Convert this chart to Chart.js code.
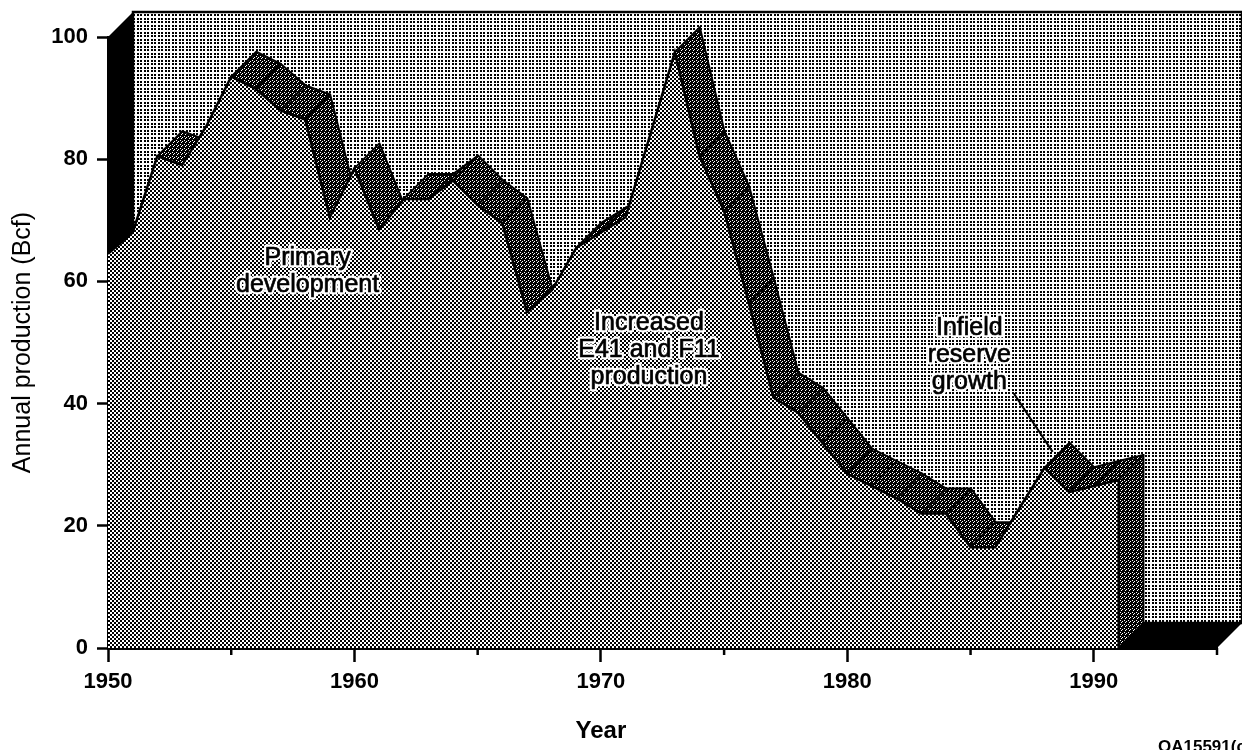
<!DOCTYPE html>
<html>
<head>
<meta charset="utf-8">
<title>Annual production</title>
<script src="https://cdn.jsdelivr.net/npm/chart.js@4/dist/chart.umd.min.js"></script>
<style>
  html, body { margin: 0; padding: 0; background: #fff; }
  canvas { display: block; }
</style>
</head>
<body>
<canvas id="productionChart" width="1242" height="750"></canvas>
<script>
// values (Bcf per year)
const years = [1950, 1951, 1952, 1953, 1954, 1955, 1956, 1957, 1958, 1959,
               1960, 1961, 1962, 1963, 1964, 1965, 1966, 1967, 1968, 1969,
               1970, 1971, 1972, 1973, 1974, 1975, 1976, 1977, 1978, 1979,
               1980, 1981, 1982, 1983, 1984, 1985, 1986, 1987, 1988, 1989,
               1990, 1991];
const production = [64.5, 68, 80.5, 79, 85.5, 93.5, 91.5, 88, 86.5, 70.5,
                    78.5, 68.5, 73.5, 73.5, 76.5, 72.5, 69.5, 55, 58.5, 65.5,
                    68, 70.5, 84, 97.5, 80.5, 71.5, 56.5, 41, 38.5, 33.5,
                    28.5, 26.5, 24.5, 22, 22, 16.5, 16.5, 23, 29.5, 25.5,
                    26.5, 27.5];

const yTicks = [0, 20, 40, 60, 80, 100];
const xLabelYears = [1950, 1960, 1970, 1980, 1990];

// text notes, anchored in data units (year, Bcf of first baseline)
const noteLines = [['Primary', 'development'], ['Increased', 'E41 and F11', 'production'], ['Infield', 'reserve', 'growth']];
const noteYears = [1958.1, 1971.95, 1984.95];
const noteValues = [62.7, 52.0, 51.2];
const leaderFrom = [1986.75, 41.7];
const leaderTo = [1988.33, 32.1];

const DEPTH = 25; // 3d offset in px
const FONT = "'Liberation Sans', Arial, Helvetica, sans-serif";

function makePattern(size, draw) {
    let tile = document.createElement('canvas');
    tile.width = size;
    tile.height = size;
    let tctx = tile.getContext('2d');
    draw(tctx);
    return tctx.createPattern(tile, 'repeat');
}

// back wall: square dots on white
const wallPattern = makePattern(7, c => {
    c.fillStyle = '#fff';
    c.fillRect(0, 0, 7, 7);
    c.fillStyle = '#000';
    [[0, 0], [4, 0], [0, 4], [4, 4]].forEach(p => c.fillRect(p[0], p[1], 2, 2));
});
// front face: checker
const frontPattern = makePattern(4, c => {
    c.fillStyle = '#fff';
    c.fillRect(0, 0, 4, 4);
    c.fillStyle = '#000';
    c.fillRect(0, 0, 2, 2);
    c.fillRect(2, 2, 2, 2);
});
// top ribbon and end face: dark
const ribbonPattern = makePattern(4, c => {
    c.fillStyle = '#000';
    c.fillRect(0, 0, 4, 4);
    c.fillStyle = '#fff';
    [[0, 0], [2, 1], [1, 2]].forEach(p => c.fillRect(p[0], p[1], 1, 1));
});

function poly(ctx, pts) {
    ctx.beginPath();
    ctx.moveTo(pts[0][0], pts[0][1]);
    for (let i = 1; i < pts.length; i++) ctx.lineTo(pts[i][0], pts[i][1]);
    ctx.closePath();
}

const depthPlugin = {
    id: 'depth3d',
    beforeDatasetsDraw(chart) {
        let ctx = chart.ctx;
        let a = chart.chartArea;
        let xs = chart.scales.x, ys = chart.scales.y;
        ctx.save();

        // back wall
        ctx.fillStyle = wallPattern;
        ctx.fillRect(a.left + DEPTH, a.top - DEPTH, a.right - a.left, a.bottom - a.top);
        ctx.strokeStyle = '#000';
        ctx.lineWidth = 2.5;
        ctx.strokeRect(a.left + DEPTH, a.top - DEPTH, a.right - a.left, a.bottom - a.top);

        // left wall and floor
        ctx.fillStyle = '#000';
        poly(ctx, [[a.left, a.top], [a.left + DEPTH, a.top - DEPTH], [a.left + DEPTH, a.bottom - DEPTH], [a.left, a.bottom]]);
        ctx.fill();
        poly(ctx, [[a.left, a.bottom], [a.left + DEPTH, a.bottom - DEPTH], [a.right + DEPTH, a.bottom - DEPTH], [a.right, a.bottom]]);
        ctx.fill();

        // top faces, drawn left to right, skipping the ones facing away
        let pts = years.map((yr, i) => [xs.getPixelForValue(yr), ys.getPixelForValue(production[i])]);
        ctx.lineWidth = 2;
        ctx.lineJoin = 'round';
        for (let i = 0; i < pts.length - 1; i++) {
            let p = pts[i], q = pts[i + 1];
            if ((q[0] - p[0]) + (q[1] - p[1]) < 0) continue;
            poly(ctx, [p, q, [q[0] + DEPTH, q[1] - DEPTH], [p[0] + DEPTH, p[1] - DEPTH]]);
            ctx.fillStyle = ribbonPattern;
            ctx.fill();
            ctx.stroke();
        }

        // end face at the last year
        let last = pts[pts.length - 1];
        poly(ctx, [last, [last[0] + DEPTH, last[1] - DEPTH], [last[0] + DEPTH, a.bottom - DEPTH], [last[0], a.bottom]]);
        ctx.fillStyle = ribbonPattern;
        ctx.fill();
        ctx.lineWidth = 2;
        ctx.stroke();
        ctx.restore();
    },
    afterDatasetsDraw(chart) {
        let ctx = chart.ctx;
        let a = chart.chartArea;
        let xs = chart.scales.x, ys = chart.scales.y;
        ctx.save();

        // front edge at the last year
        let lx = xs.getPixelForValue(years[years.length - 1]);
        let ly = ys.getPixelForValue(production[production.length - 1]);
        ctx.strokeStyle = '#000';
        ctx.lineWidth = 2;
        ctx.beginPath();
        ctx.moveTo(lx, ly);
        ctx.lineTo(lx, a.bottom);
        ctx.stroke();

        // minor x ticks
        ctx.lineWidth = 2.5;
        xs.ticks.forEach(t => {
            if (t.value % 10 === 0) return;
            let px = xs.getPixelForValue(t.value);
            ctx.beginPath();
            ctx.moveTo(px, a.bottom);
            ctx.lineTo(px, a.bottom + 7);
            ctx.stroke();
        });

        // leader line
        ctx.lineWidth = 2;
        ctx.beginPath();
        ctx.moveTo(xs.getPixelForValue(leaderFrom[0]), ys.getPixelForValue(leaderFrom[1]));
        ctx.lineTo(xs.getPixelForValue(leaderTo[0]), ys.getPixelForValue(leaderTo[1]));
        ctx.stroke();

        // notes with white halo
        ctx.font = '25px ' + FONT;
        ctx.textAlign = 'center';
        ctx.textBaseline = 'alphabetic';
        ctx.lineJoin = 'round';
        noteLines.forEach((lines, n) => {
            let cx = xs.getPixelForValue(noteYears[n]);
            let cy = ys.getPixelForValue(noteValues[n]);
            lines.forEach((txt, k) => {
                ctx.strokeStyle = '#fff';
                ctx.lineWidth = 5;
                ctx.strokeText(txt, cx, cy + k * 27);
                ctx.fillStyle = '#000';
                ctx.fillText(txt, cx, cy + k * 27);
                ctx.strokeStyle = '#000';
                ctx.lineWidth = 0.7;
                ctx.strokeText(txt, cx, cy + k * 27);
            });
        });

        // x axis title
        ctx.font = 'bold 24px ' + FONT;
        ctx.fillStyle = '#000';
        ctx.fillText('Year', xs.getPixelForValue(1970), 738);

        // figure id, bottom right
        ctx.font = 'bold 17px ' + FONT;
        ctx.textAlign = 'left';
        ctx.fillText('QA15591(c)', chart.width - 84, chart.height + 2);
        ctx.restore();
    }
};

Chart.defaults.font.family = FONT;
Chart.defaults.color = '#000';

let ctx = document.getElementById('productionChart').getContext('2d');
let productionChart = new Chart(ctx, {
    type: 'line',
    data: {
        datasets: [{
            label: 'Annual production',
            data: years.map((yr, i) => ({ x: yr, y: production[i] })),
            borderColor: '#000',
            borderWidth: 2.5,
            backgroundColor: frontPattern,
            fill: 'origin',
            pointRadius: 0,
            tension: 0
        }]
    },
    options: {
        responsive: false,
        animation: false,
        devicePixelRatio: 1,
        layout: { padding: { top: 37, right: 25, left: 0, bottom: 0 } },
        plugins: {
            legend: { display: false },
            tooltip: { enabled: false }
        },
        scales: {
            x: {
                type: 'linear',
                min: 1950,
                max: 1995,
                afterFit: s => { s.height = 102; },
                ticks: {
                    stepSize: 5,
                    autoSkip: false,
                    maxRotation: 0,
                    padding: 7,
                    font: { size: 22, weight: 'bold' },
                    callback: v => xLabelYears.includes(v) ? String(v) : ''
                },
                grid: {
                    drawOnChartArea: false,
                    tickLength: 14,
                    tickWidth: 2.5,
                    tickColor: c => (c.tick && xLabelYears.includes(c.tick.value)) ? '#000' : 'rgba(0,0,0,0)'
                },
                border: { display: true, color: '#000', width: 3 }
            },
            y: {
                min: 0,
                max: 100,
                afterFit: s => { s.width = 108; },
                afterBuildTicks: s => { s.ticks = yTicks.map(v => ({ value: v })); },
                ticks: {
                    padding: 9,
                    font: { size: 22, weight: 'bold' }
                },
                grid: {
                    drawOnChartArea: false,
                    tickLength: 11,
                    tickWidth: 2.5,
                    tickColor: '#000'
                },
                border: { display: true, color: '#000', width: 3 },
                title: {
                    display: true,
                    text: 'Annual production (Bcf)',
                    font: { size: 25 },
                    padding: { top: 8, bottom: 0 }
                }
            }
        }
    },
    plugins: [depthPlugin]
});
</script>
</body>
</html>
